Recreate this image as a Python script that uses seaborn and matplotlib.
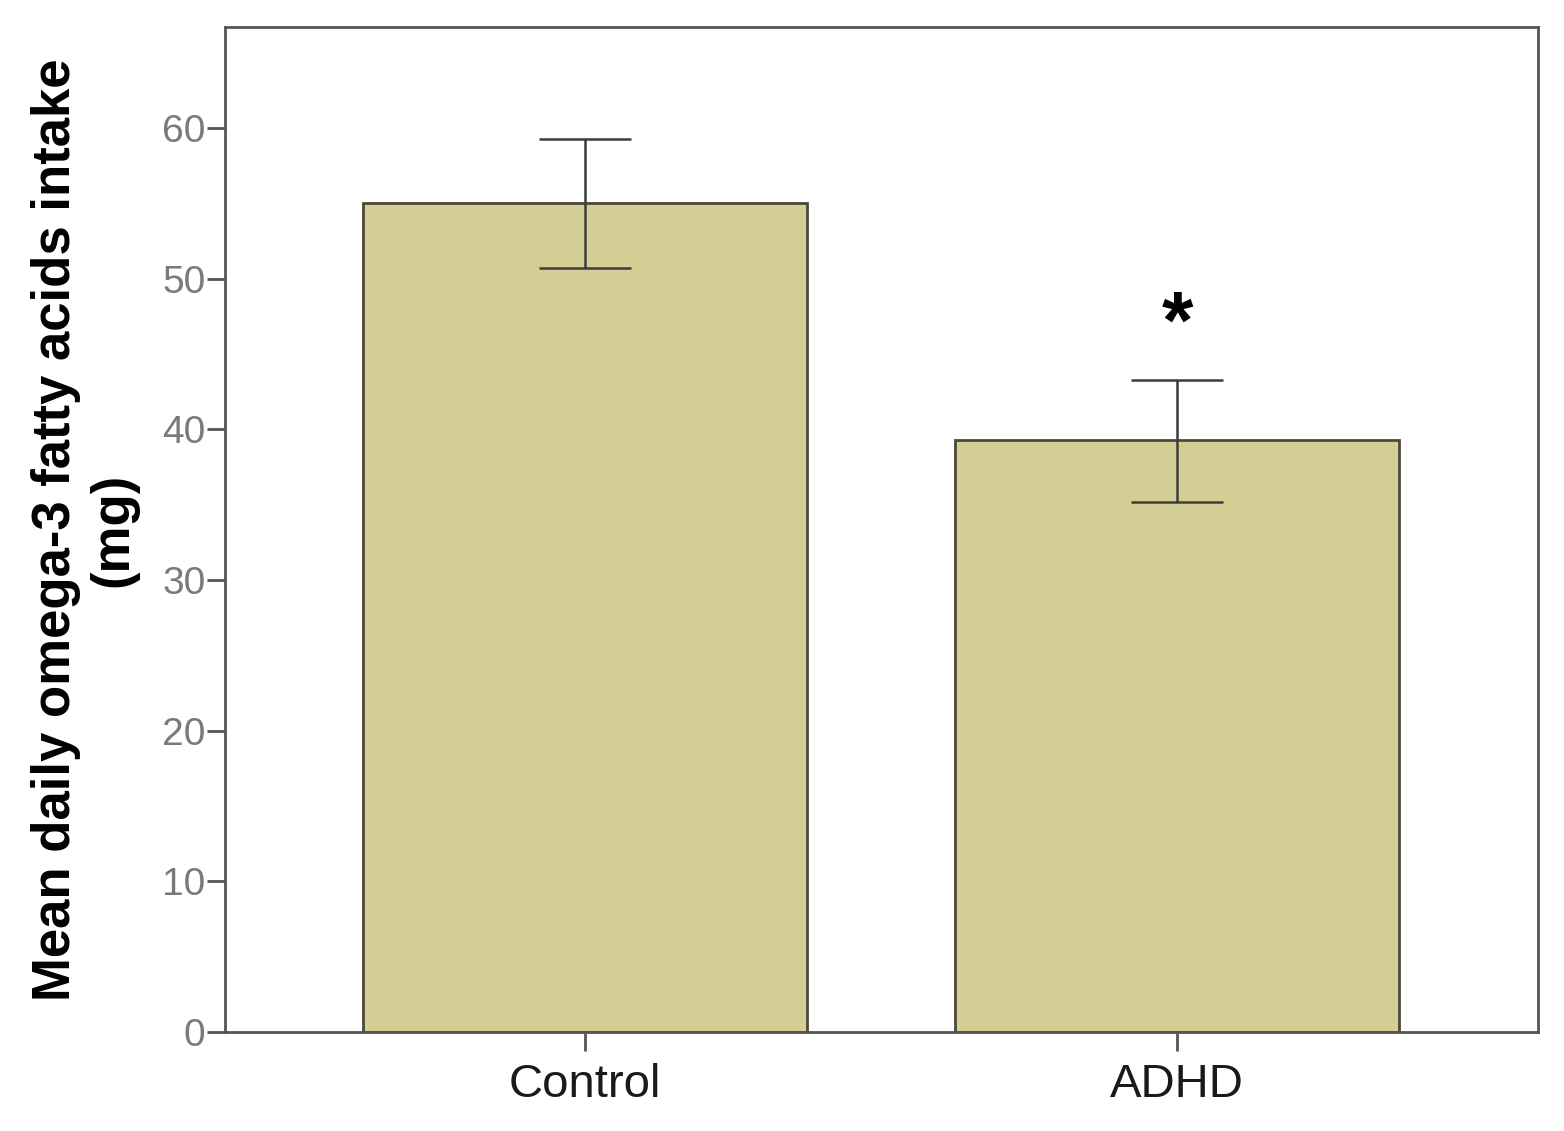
import matplotlib
matplotlib.use("Agg")
import matplotlib.pyplot as plt
import seaborn as sns
import pandas as pd

# Data
groups = ["Control", "ADHD"]
mean_intake = [55.0, 39.3]
err_low = [4.3, 4.1]
err_high = [4.3, 4.0]
sig_marks = ["", "*"]

sns.set_theme(style="white")
plt.rcParams["font.family"] = ["Liberation Sans", "DejaVu Sans"]

df = pd.DataFrame({"group": groups, "intake": mean_intake})

fig = plt.figure(figsize=(15.64, 11.31), dpi=100)
ax = fig.add_axes([0.1439, 0.0875, 0.8395, 0.8886])

bar_color = "#D4CE94"
edge = "#4a4a3a"

sns.barplot(data=df, x="group", y="intake", color=bar_color, width=0.75,
            edgecolor=edge, linewidth=2.0, saturation=1, errorbar=None, ax=ax)

# error bars drawn at the bar centres
xpos = [p.get_x() + p.get_width() / 2 for p in ax.patches]
ax.errorbar(xpos, mean_intake, yerr=[err_low, err_high], fmt="none",
            ecolor="#3c3c3c", elinewidth=1.8, capsize=33, capthick=1.8)

for x, s in zip(xpos, sig_marks):
    if s:
        ax.text(x, 46.8, s, ha="center", va="center", fontsize=58,
                fontweight="bold", color="black")

ax.set_xlim(-0.608, 1.61)
ax.set_ylim(0, 66.7)
ax.set_yticks(range(0, 61, 10))
ax.set_xlabel("")
ax.set_ylabel("Mean daily omega-3 fatty acids intake\n(mg)", fontsize=38,
              fontweight="bold", color="black", labelpad=17, linespacing=1.2)

for sp in ax.spines.values():
    sp.set_visible(True)
    sp.set_color("#555555")
    sp.set_linewidth(2.0)

ax.tick_params(axis="y", which="major", left=True, length=13, width=2.0,
               color="#555555", labelsize=28, labelcolor="#7a7a7a", pad=1)
ax.tick_params(axis="x", which="major", bottom=True, length=14, width=2.0,
               color="#555555", labelsize=34, labelcolor="#1a1a1a", pad=8)

fig.savefig("out.png", dpi=100)
